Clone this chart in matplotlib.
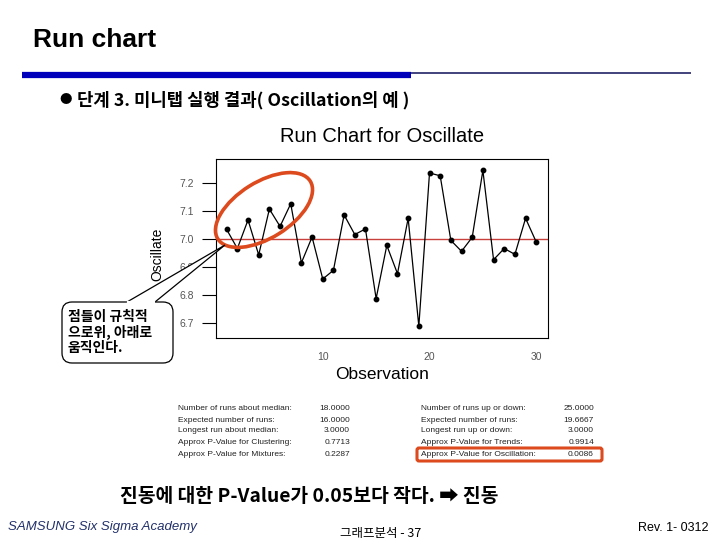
import numpy as np
import matplotlib.pyplot as plt
from matplotlib.patches import Ellipse, FancyBboxPatch, Polygon

# run chart data
observation = list(range(1, 31))
oscillate = [7.033, 6.965, 7.067, 6.942, 7.106, 7.044, 7.125, 6.914, 7.006, 6.856,
             6.887, 7.085, 7.015, 7.035, 6.786, 6.976, 6.875, 7.073, 6.687, 7.235,
             7.225, 6.994, 6.955, 7.005, 7.244, 6.925, 6.965, 6.944, 7.073, 6.988]
y_ticks = [6.7, 6.8, 6.9, 7.0, 7.1, 7.2]
x_ticks = [10, 20, 30]

left_labels = ['Number of runs about median:', 'Expected number of runs:',
               'Longest run about median:', 'Approx P-Value for Clustering:',
               'Approx P-Value for Mixtures:']
left_values = ['18.0000', '16.0000', '3.0000', '0.7713', '0.2287']
right_labels = ['Number of runs up or down:', 'Expected number of runs:',
                'Longest run up or down:', 'Approx P-Value for Trends:',
                'Approx P-Value for Oscillation:']
right_values = ['25.0000', '19.6667', '3.0000', '0.9914', '0.0086']

callout_lines = ['점들이 규칙적', '으로위, 아래로', '움직인다.']

KR = ['Noto Sans CJK KR', 'DejaVu Sans']
plt.rcParams['font.family'] = ['Liberation Sans', 'DejaVu Sans']

fig = plt.figure(figsize=(7.2, 5.4), dpi=100)

# main run chart
ax = fig.add_axes([216/720, 1-338/540, 332/720, 179/540])
ax.plot(observation, oscillate, color='black', lw=0.9, marker='o', ms=3.2, zorder=3)
ax.axhline(np.median(oscillate), color='#c8403c', lw=1.0, zorder=2)
ax.set_xlim(0, 31.1)
ax.set_ylim(6.645, 7.285)
ax.set_yticks(y_ticks)
ax.set_yticklabels([f'{v:.1f}' for v in y_ticks])
ax.set_xticks(x_ticks)
ax.tick_params(axis='y', direction='out', length=10, width=0.8, pad=6,
               labelsize=7.5, labelcolor='#555555')
ax.tick_params(axis='x', length=0, pad=10, labelsize=7.5, labelcolor='#555555')
for s in ax.spines.values():
    s.set_linewidth(0.8)
ax.set_title('Run Chart for Oscillate', fontsize=14.5, pad=12)
ax.set_xlabel('Observation', fontsize=12.5, labelpad=4)
ax.set_ylabel('Oscillate', fontsize=10)
ax.yaxis.set_label_coords(-0.155, 0.47)

# overlay in pixel coordinates for the slide decorations
ov = fig.add_axes([0, 0, 1, 1])
ov.set_xlim(0, 720)
ov.set_ylim(540, 0)
ov.axis('off')

ov.text(33, 40, 'Run chart', fontsize=19, fontweight='bold', va='center')
ov.plot([22, 411], [74.5, 74.5], color='#0000bb', lw=4.5, solid_capstyle='butt')
ov.plot([411, 691], [72.5, 72.5], color='#10105a', lw=1.1, solid_capstyle='butt')
ov.text(59, 100, '●', fontsize=9, family=KR, va='center')
ov.text(77, 100, '단계 3. 미니탭 실행 결과( Oscillation의 예 )', fontsize=12.8,
        family=KR, fontweight='bold', va='center')

# red ellipse around the first points
ov.add_patch(Ellipse((264, 210), 109, 56, angle=-32, fill=False,
                     edgecolor='#dc4a1e', lw=2.6))

# callout box with tail
ov.add_patch(FancyBboxPatch((62, 302), 111, 61, boxstyle='round,pad=0,rounding_size=10',
                            facecolor='white', edgecolor='black', lw=0.9))
ov.add_patch(Polygon([(127, 302), (225, 245), (155, 302)], closed=False,
                     facecolor='white', edgecolor='black', lw=0.9))
ov.plot([127.6, 154.4], [302, 302], color='white', lw=1.6)
for i, line in enumerate(callout_lines):
    ov.text(68, 317 + i*15.5, line, fontsize=10, family=KR, fontweight='bold',
            va='center')

# statistics table
row_y = [408, 420, 431, 443, 454]
for y, lab, val in zip(row_y, left_labels, left_values):
    ov.text(178, y, lab, fontsize=6, color='#222222', va='center')
    ov.text(350, y, val, fontsize=6, color='#222222', va='center', ha='right')
for y, lab, val in zip(row_y, right_labels, right_values):
    ov.text(421, y, lab, fontsize=6, color='#222222', va='center')
    ov.text(594, y, val, fontsize=6, color='#222222', va='center', ha='right')
ov.add_patch(FancyBboxPatch((417, 448), 185, 13, boxstyle='round,pad=0,rounding_size=2',
                            fill=False, edgecolor='#dc4a1e', lw=2.2))

# conclusion and footer
ov.text(120, 497, '진동에 대한 P-Value가 0.05보다 작다. ➡ 진동', fontsize=13.9,
        family=KR, fontweight='bold', va='center')
ov.text(8, 527, 'SAMSUNG Six Sigma Academy', fontsize=9.5, style='italic',
        color='#22306a', va='center')
ov.text(340, 533, '그래프분석 - 37', fontsize=9, family=KR, va='center')
ov.text(638, 528, 'Rev. 1- 0312', fontsize=9, va='center')

fig.savefig('out.png', dpi=100)
